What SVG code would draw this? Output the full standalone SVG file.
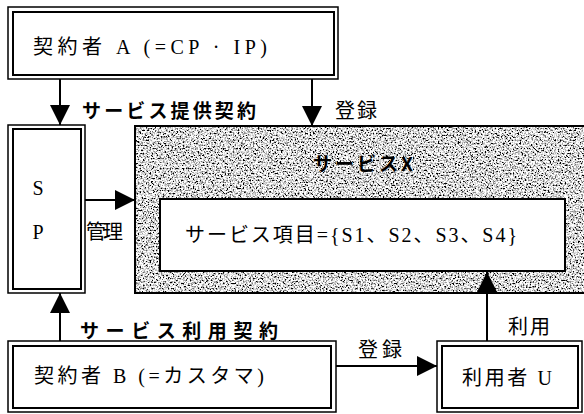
<svg xmlns="http://www.w3.org/2000/svg" width="584" height="414" viewBox="0 0 584 414">
<style>
.o{fill:#fff;stroke:#000;stroke-width:1.5}
.i{fill:none;stroke:#000;stroke-width:2}
.t{font-family:"Liberation Serif","Noto Sans CJK JP",serif;font-size:20px;fill:#000;dominant-baseline:central}
.b{font-family:"Noto Sans CJK JP",sans-serif;font-weight:700;font-size:19px;fill:#000;dominant-baseline:central}
.c{stroke:#000;stroke-width:2;fill:none}
</style>
<defs>
<marker id="ah" markerUnits="userSpaceOnUse" markerWidth="20" markerHeight="20" viewBox="0 0 20 20" refX="20" refY="10" orient="auto">
<path d="M0,0 L20,10 L0,20 Z" fill="#000"/>
</marker>
<filter id="grain" x="0" y="0" width="100%" height="100%">
<feTurbulence type="fractalNoise" baseFrequency="0.6" numOctaves="3" seed="7" result="t"/>
<feColorMatrix in="t" type="matrix" values="1 0 0 0 0  1 0 0 0 0  1 0 0 0 0  0 0 0 0 1" result="g"/>
<feComponentTransfer in="g">
<feFuncR type="linear" slope="3.6" intercept="-1.1"/>
<feFuncG type="linear" slope="3.6" intercept="-1.1"/>
<feFuncB type="linear" slope="3.6" intercept="-1.1"/>
</feComponentTransfer>
</filter>
</defs>

<g id="nodeA">
<rect class="o" x="8" y="7" width="330" height="72"/>
<rect class="i" x="13" y="12" width="321" height="63"/>
<text class="t" x="33" y="47" textLength="234" lengthAdjust="spacing">契約者 A (=CP · IP)</text>
</g>

<g id="nodeSP">
<rect class="o" x="8" y="125" width="77" height="168"/>
<rect class="i" x="13" y="129" width="68" height="160"/>
<text class="t" x="38" y="188" text-anchor="middle">S</text>
<text class="t" x="38" y="232" text-anchor="middle">P</text>
</g>

<g id="nodeX">
<rect x="135" y="126" width="449" height="167" fill="#999" filter="url(#grain)"/>
<rect x="135" y="126" width="452" height="167" fill="none" stroke="#000" stroke-width="2"/>
<text class="b" x="313" y="162" font-size="20" textLength="100" lengthAdjust="spacing">サービスX</text>
<g id="nodeItems">
<rect x="160" y="199" width="405" height="72" fill="#fff" stroke="#000" stroke-width="2"/>
<text class="t" x="185" y="235" font-size="18" textLength="332" lengthAdjust="spacing">サービス項目={S1、S2、S3、S4}</text>
</g>
</g>

<g id="nodeB">
<rect class="o" x="8" y="341" width="328" height="71"/>
<rect class="i" x="13" y="346" width="318" height="62"/>
<text class="t" x="34" y="376" textLength="230" lengthAdjust="spacing">契約者 B (=カスタマ)</text>
</g>

<g id="nodeU">
<rect class="o" x="437" y="341" width="145" height="71"/>
<rect class="i" x="442" y="346" width="136" height="62"/>
<text class="t" x="462" y="378" textLength="90" lengthAdjust="spacing">利用者 U</text>
</g>

<g id="connectors">
<line class="c" x1="60" y1="79" x2="60" y2="125" marker-end="url(#ah)"/>
<line class="c" x1="312" y1="79" x2="312" y2="126" marker-end="url(#ah)"/>
<line class="c" x1="85" y1="200" x2="135" y2="200" marker-end="url(#ah)"/>
<line class="c" x1="60" y1="341" x2="60" y2="293" marker-end="url(#ah)"/>
<line class="c" x1="336" y1="366" x2="437" y2="366" marker-end="url(#ah)"/>
<line class="c" x1="487" y1="341" x2="487" y2="272" marker-end="url(#ah)"/>
<text class="b" x="82" y="109" textLength="174" lengthAdjust="spacing">サービス提供契約</text>
<text class="t" x="335" y="111" font-size="19" textLength="42" lengthAdjust="spacing">登録</text>
<text class="t" x="86" y="232" font-size="18" textLength="37" lengthAdjust="spacing">管理</text>
<text class="b" x="80" y="329" textLength="198" lengthAdjust="spacing">サービス利用契約</text>
<text class="t" x="358" y="350" font-size="19" textLength="44" lengthAdjust="spacing">登録</text>
<text class="t" x="508" y="327" font-size="19" textLength="42" lengthAdjust="spacing">利用</text>
</g>
</svg>
